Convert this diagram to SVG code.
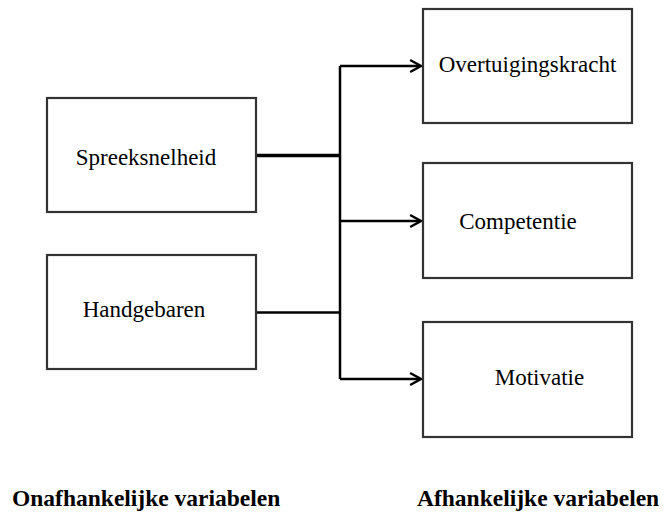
<svg xmlns="http://www.w3.org/2000/svg" width="672" height="513" viewBox="0 0 672 513">
<defs>
<style>
.box{fill:#fff;stroke:#333;stroke-width:2.2}
.lbl{font-family:"Liberation Serif","Times New Roman",serif;font-size:23px;fill:#000}
.foot{font-family:"Liberation Serif","Times New Roman",serif;font-size:23.5px;font-weight:bold;fill:#000}
.ln{fill:none;stroke:#000;stroke-width:2.5}
.hd{fill:none;stroke:#000;stroke-width:2.5;stroke-linecap:round;stroke-linejoin:miter}
</style>
</defs>
<rect width="672" height="513" fill="#fff"/>
<g id="connectors">
<path class="ln" d="M256 155.5 H340" style="stroke-width:3.5"/>
<path class="ln" d="M256 312.5 H340"/>
<path class="ln" d="M340 66 V379"/>
<path class="ln" d="M340 66 H420"/>
<path class="ln" d="M340 221 H420"/>
<path class="ln" d="M340 379 H420"/>
<path class="hd" d="M411 60.5 L421 66 L411 71.5"/>
<path class="hd" d="M411 215.5 L421 221 L411 226.5"/>
<path class="hd" d="M411 373.5 L421 379 L411 384.5"/>
</g>
<g id="spreeksnelheid">
<rect class="box" x="47" y="98" width="209" height="114"/>
<text class="lbl" x="146" y="165" text-anchor="middle">Spreeksnelheid</text>
</g>
<g id="handgebaren">
<rect class="box" x="47" y="255" width="209" height="114"/>
<text class="lbl" x="144" y="317" text-anchor="middle">Handgebaren</text>
</g>
<g id="overtuigingskracht">
<rect class="box" x="423" y="9" width="209" height="114"/>
<text class="lbl" x="527.5" y="72" text-anchor="middle">Overtuigingskracht</text>
</g>
<g id="competentie">
<rect class="box" x="423" y="163" width="209" height="115"/>
<text class="lbl" x="518" y="229" text-anchor="middle">Competentie</text>
</g>
<g id="motivatie">
<rect class="box" x="423" y="322" width="209" height="115"/>
<text class="lbl" x="539.5" y="385" text-anchor="middle">Motivatie</text>
</g>
<text class="foot" x="12" y="506">Onafhankelijke variabelen</text>
<text class="foot" x="417" y="506">Afhankelijke variabelen</text>
</svg>
